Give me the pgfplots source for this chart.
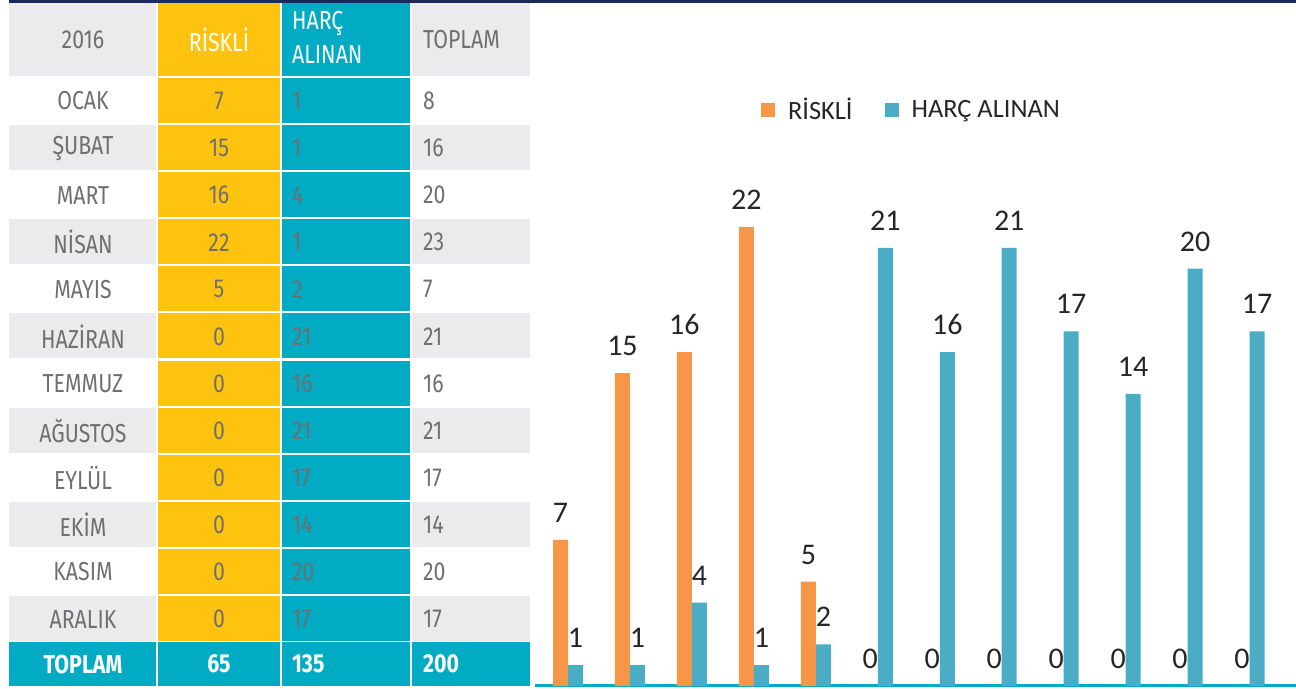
\documentclass[border=0pt]{standalone}
\usepackage{fontspec}
\setmainfont{Carlito}
\newfontfamily\tabfont{Fira Sans}[FakeStretch=0.82]
\usepackage{pgfplots}
\usepackage{pgfplotstable}
\pgfplotsset{compat=1.18}
\definecolor{navy}{HTML}{1B2A5C}
\definecolor{tyellow}{HTML}{FDC30F}
\definecolor{tteal}{HTML}{00ABC3}
\definecolor{tgray}{HTML}{EBEBED}
\definecolor{ttext}{HTML}{6F6F6F}
\definecolor{borange}{HTML}{F79646}
\definecolor{bteal}{HTML}{4BACC6}
\definecolor{lbl}{HTML}{262626}

% month index, riskli, harc alinan
\pgfplotstableread{
x riskli harc
0 7 1
1 15 1
2 16 4
3 22 1
4 5 2
5 0 21
6 0 16
7 0 21
8 0 17
9 0 14
10 0 20
11 0 17
}\aylik

\begin{document}
\begin{tikzpicture}[x=0.5pt,y=0.5pt]
\path[use as bounding box] (0,0) rectangle (1296,689);
\fill[navy] (9,686) rectangle (1296,689);

\begin{scope}[font={\tabfont\fontsize{13}{15}\selectfont}]
% table header
\fill[tgray] (9,613) rectangle (156,686);
\fill[tyellow] (158,613) rectangle (280,686);
\fill[tteal] (282,613) rectangle (410,686);
\fill[tgray] (412,613) rectangle (530,686);
\node[text=ttext] at (83,649) {2016};
\node[text=white] at (219,649) {RİSKLİ};
\node[text=white,anchor=west] at (285,665) {HARÇ};
\node[text=white,anchor=west] at (285,634) {ALINAN};
\node[text=ttext,anchor=west] at (416,649) {TOPLAM};

% table body
\foreach \m/\r/\h/\t [count=\i from 0] in {OCAK/7/1/8, ŞUBAT/15/1/16, MART/16/4/20, NİSAN/22/1/23, MAYIS/5/2/7, HAZİRAN/0/21/21, TEMMUZ/0/16/16, AĞUSTOS/0/21/21, EYLÜL/0/17/17, EKİM/0/14/14, KASIM/0/20/20, ARALIK/0/17/17}{
  \pgfmathsetmacro\yt{689-78-47.1*\i}
  \pgfmathsetmacro\yb{\yt-45}
  \pgfmathsetmacro\yc{\yt-23}
  \ifodd\i\relax
    \fill[tgray] (9,\yb) rectangle (156,\yt);
    \fill[tgray] (412,\yb) rectangle (530,\yt);
  \fi
  \fill[tyellow] (158,\yb) rectangle (280,\yt);
  \fill[tteal] (282,\yb) rectangle (410,\yt);
  \node[text=ttext] at (83,\yc) {\m};
  \node[text=ttext] at (219,\yc) {\r};
  \node[text=ttext,anchor=west] at (285,\yc) {\h};
  \node[text=ttext,anchor=west] at (416,\yc) {\t};
}

% total row
\fill[tteal] (9,3) rectangle (530,47);
\fill[white] (156,3) rectangle (158,47);
\fill[white] (280,3) rectangle (282,47);
\fill[white] (410,3) rectangle (412,47);
\end{scope}
\begin{scope}[font={\tabfont\fontsize{13}{15}\selectfont\bfseries}]
\node[text=white] at (83,25) {TOPLAM};
\node[text=white] at (219,25) {65};
\node[text=white,anchor=west] at (285,25) {135};
\node[text=white,anchor=west] at (416,25) {200};
\end{scope}

\begin{axis}[
    at={(267.5pt,1.5pt)}, anchor=south west,
    scale only axis, width=380.5pt, height=229.5pt,
    xmin=-0.533, xmax=11.75, ymin=0, ymax=22,
    ybar=0pt, bar width=7.5pt,
    axis x line*=bottom, axis y line=none,
    x axis line style={-, draw=tteal, line width=1.5pt},
    xtick=\empty, ytick=\empty,
    clip=false,
    /pgf/number format/assume math mode=true,
    nodes near coords,
    every node near coord/.append style={font=\fontsize{15}{18}\selectfont, text=lbl, inner sep=0pt, yshift=8.5pt},
    legend columns=2,
    legend image code/.code={\fill[#1] (0pt,-3.5pt) rectangle (7pt,3.5pt);},
    legend style={at={(0.496,1.255)}, anchor=center, draw=none, fill=none,
        font=\fontsize{13.2}{15}\selectfont, text=lbl, column sep=4.5pt,
        /tikz/every even column/.append style={column sep=14pt}},
]
\addplot[fill=borange, draw=none] table[x=x, y=riskli] {\aylik};
\addplot[fill=bteal, draw=none] table[x=x, y=harc] {\aylik};
\legend{RİSKLİ, HARÇ ALINAN}
\end{axis}
\end{tikzpicture}
\end{document}
